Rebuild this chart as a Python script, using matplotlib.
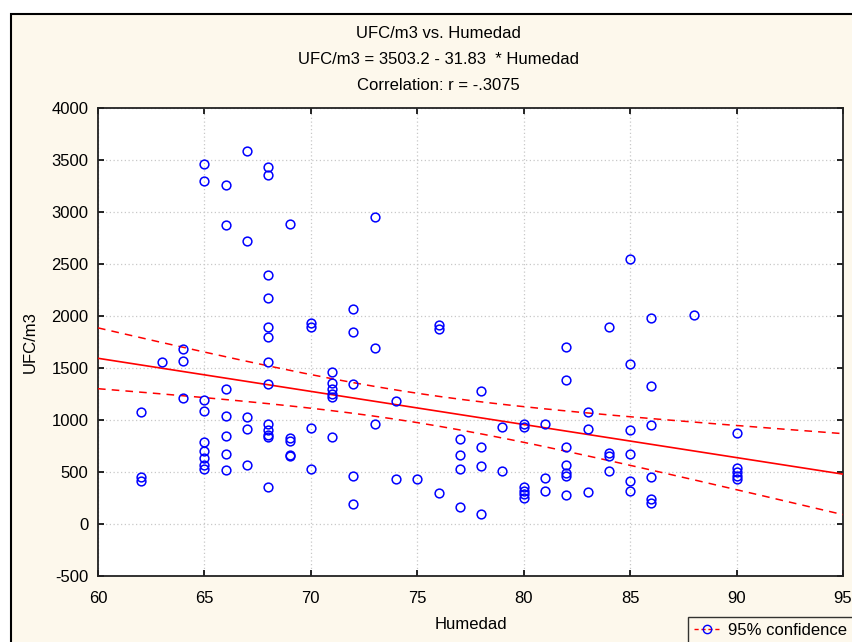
import numpy as np
import matplotlib
matplotlib.use("Agg")
import matplotlib.pyplot as plt
from matplotlib.lines import Line2D
from matplotlib.patches import Rectangle

plt.rcParams['font.family'] = ['Liberation Sans', 'DejaVu Sans']

# ---- data ----
humedad_groups = [62, 63, 64, 65, 66, 67, 68, 69, 70, 71, 72, 73, 74, 75, 76, 77, 78,
                  79, 80, 81, 82, 83, 84, 85, 86, 88, 90]
ufc_groups = [
    [1080, 455, 410],
    [1555],
    [1680, 1570, 1210],
    [3465, 3295, 1190, 1085, 790, 700, 630, 570, 530],
    [3255, 2875, 1300, 1040, 845, 675, 515],
    [3585, 2720, 1025, 910, 570],
    [3430, 3360, 2390, 2175, 1895, 1800, 1560, 1345, 960, 900, 860, 835, 360],
    [2880, 830, 795, 665, 650],
    [1930, 1895, 925, 530],
    [1465, 1355, 1300, 1250, 1225, 835],
    [2065, 1850, 1345, 465, 190],
    [2955, 1695, 960],
    [1185, 435],
    [435],
    [1910, 1875, 295],
    [820, 660, 530, 160],
    [1280, 740, 555, 100],
    [935, 505],
    [965, 935, 360, 320, 285, 250],
    [960, 440, 320],
    [1700, 1385, 740, 565, 490, 460, 280],
    [1080, 910, 305],
    [1890, 680, 655, 510],
    [2545, 1540, 900, 675, 410, 320],
    [1985, 1330, 955, 450, 245, 200],
    [2010],
    [875, 540, 500, 465, 430],
]
intercept = 3503.2
slope = -31.83

title_lines = ["UFC/m3 vs. Humedad",
               "UFC/m3 = 3503.2 - 31.83  * Humedad",
               "Correlation: r = -.3075"]
x_ticks = [60, 65, 70, 75, 80, 85, 90, 95]
y_ticks = [-500, 0, 500, 1000, 1500, 2000, 2500, 3000, 3500, 4000]

x = np.concatenate([[h] * len(v) for h, v in zip(humedad_groups, ufc_groups)]).astype(float)
y = np.concatenate(ufc_groups).astype(float)

# ---- figure ----
W, H = 852, 642
fig = plt.figure(figsize=(W / 100, H / 100), dpi=100, facecolor='white')
bg = '#FDF8EC'
fig.patches.append(Rectangle((11 / W, -0.1), 1.2, 1 - 14 / H + 0.1, transform=fig.transFigure,
                             facecolor=bg, edgecolor='black', linewidth=1.5, zorder=-10))

ax = fig.add_axes([98 / W, 1 - 576 / H, (843 - 98) / W, (576 - 108) / H])
ax.set_facecolor('white')

# regression line and 95% confidence band
n = len(x)
xm = x.mean()
sxx = np.sum((x - xm) ** 2)
resid = y - (intercept + slope * x)
s = np.sqrt(np.sum(resid ** 2) / (n - 2))
tval = 1.98
xs = np.linspace(60, 95, 200)
yfit = intercept + slope * xs
half = tval * s * np.sqrt(1 / n + (xs - xm) ** 2 / sxx)

ax.plot(xs, yfit, color='#FF0000', lw=1.2, zorder=3)
ax.plot(xs, yfit + half, color='#FF0000', lw=1.1, ls=(0, (5, 4)), zorder=3)
ax.plot(xs, yfit - half, color='#FF0000', lw=1.1, ls=(0, (5, 4)), zorder=3)

ax.plot(x, y, ls='none', marker='o', ms=6.3, mfc='none', mec='#0000FF', mew=1.1, zorder=4)

ax.set_xlim(60, 95)
ax.set_ylim(-500, 4000)
ax.set_xticks(x_ticks)
ax.set_yticks(y_ticks)
ax.set_xticklabels([str(t) for t in x_ticks])
ax.set_yticklabels([str(t) for t in y_ticks])
ax.grid(True, color='#C8C8C8', linestyle=(0, (1, 2)), linewidth=0.9)
ax.set_axisbelow(True)
ax.tick_params(direction='in', length=4, width=1.2, top=True, right=True,
               labelsize=12, colors='black')
ax.tick_params(axis='x', pad=11)
ax.tick_params(axis='y', pad=7)
for sp in ax.spines.values():
    sp.set_linewidth(1.3)
    sp.set_color('#222222')

ax.set_xlabel("Humedad", fontsize=12, labelpad=8)
ax.set_ylabel("UFC/m3", fontsize=12, labelpad=10)

for i, t in enumerate(title_lines):
    fig.text(438 / W, 1 - (33 + i * 26.5) / H, t, ha='center', va='center', fontsize=12)

handle = Line2D([0], [0], color='#FF0000', ls=(0, (3, 2)), lw=1, marker='o',
                mfc='none', mec='#0000FF', ms=6)
leg = fig.legend([handle], ["95% confidence"], loc='upper left',
                 bbox_to_anchor=(688 / W, 1 - 617 / H), bbox_transform=fig.transFigure,
                 fontsize=12, frameon=True, fancybox=False, handlelength=1.6,
                 borderpad=0.35, handletextpad=0.45, borderaxespad=0)
leg.get_frame().set_edgecolor('black')
leg.get_frame().set_facecolor(bg)
leg.get_frame().set_linewidth(1.0)

fig.savefig("out.png", dpi=100, facecolor=fig.get_facecolor())
